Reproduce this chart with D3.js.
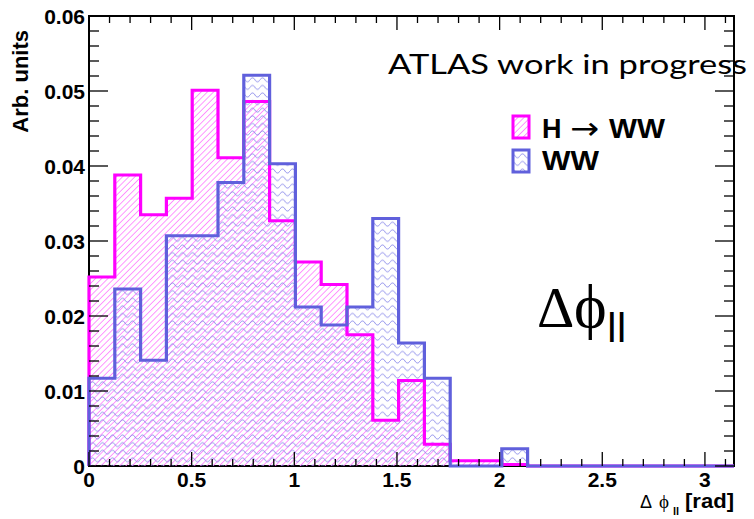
<!DOCTYPE html>
<html>
<head>
<meta charset="utf-8">
<script src="https://cdn.jsdelivr.net/npm/d3@7"></script>
<style>
  body { margin: 0; background: #fff; }
  svg { display: block; }
</style>
</head>
<body>
<div id="chart"></div>
<script>
// Data: 25 bins of delta phi_ll over [0, pi]
let nBins = 25;
let xMax = Math.PI;
let hwwValues = [0.0252, 0.0388, 0.0335, 0.0357, 0.0501, 0.0411, 0.0486, 0.0327, 0.0272, 0.0242,
                 0.0175, 0.0061, 0.0114, 0.0029, 0.0007, 0.0007, 0.0002, 0, 0, 0, 0, 0, 0, 0, 0];
let wwValues  = [0.0117, 0.0236, 0.0141, 0.0307, 0.0307, 0.0378, 0.0521, 0.0403, 0.0212, 0.0188,
                 0.0212, 0.0330, 0.0164, 0.0117, 0, 0, 0.0023, 0, 0, 0, 0, 0, 0, 0, 0];
let xTicks = [0, 0.5, 1, 1.5, 2, 2.5, 3];
let yTicks = [0, 0.01, 0.02, 0.03, 0.04, 0.05, 0.06];
let seriesNames = ["H \u2192 WW", "WW"];

let W = 754, H = 519;
let pLeft = 89, pRight = 734, pTop = 16, pBottom = 466;
let magenta = "#ff00ff", blue = "#6060dc";
let font = "'Liberation Sans', Arial, Helvetica, sans-serif";

let svg = d3.select("#chart").append("svg")
  .attr("width", W)
  .attr("height", H);

// Patterns
let defs = svg.append("defs");
defs.append("pattern")
  .attr("id", "hatch")
  .attr("patternUnits", "userSpaceOnUse")
  .attr("width", 4.4).attr("height", 10)
  .attr("patternTransform", "rotate(45)")
  .append("rect")
  .attr("x", 0).attr("y", 0)
  .attr("width", 0.8).attr("height", 10)
  .attr("fill", "#ff80ff");
defs.append("pattern")
  .attr("id", "waves")
  .attr("patternUnits", "userSpaceOnUse")
  .attr("width", 10).attr("height", 7.6)
  .append("path")
  .attr("d", "M0,3.8 C1.5,1.2 3.5,1.2 5,3.8 C6.5,6.4 8.5,6.4 10,3.8")
  .attr("fill", "none")
  .attr("stroke", "#8080e8")
  .attr("stroke-width", 0.9);

let x = d3.scaleLinear().domain([0, xMax]).range([pLeft, pRight]);
let y = d3.scaleLinear().domain([0, 0.06]).range([pBottom, pTop]);
let edges = d3.range(nBins + 1).map(i => i * xMax / nBins);

// step outline points
let stepPoints = function (vals) {
  let pts = [[x(edges[0]), y(0)]];
  vals.forEach(function (v, i) {
    pts.push([x(edges[i]), y(v)]);
    pts.push([x(edges[i + 1]), y(v)]);
  });
  pts.push([x(edges[nBins]), y(0)]);
  return pts;
};
let line = d3.line();

// Frame
svg.append("rect")
  .attr("x", pLeft).attr("y", pTop)
  .attr("width", pRight - pLeft).attr("height", pBottom - pTop)
  .attr("fill", "none")
  .attr("stroke", "#000")
  .attr("stroke-width", 2);

// Fills
svg.append("path").attr("d", line(stepPoints(hwwValues)) + "Z").attr("fill", "url(#hatch)");
svg.append("path").attr("d", line(stepPoints(wwValues)) + "Z").attr("fill", "url(#waves)");

// Outlines
svg.append("path").attr("d", line(stepPoints(hwwValues)))
  .attr("fill", "none").attr("stroke", magenta).attr("stroke-width", 3.2);
svg.append("path").attr("d", line(stepPoints(wwValues)))
  .attr("fill", "none").attr("stroke", blue).attr("stroke-width", 3.2);

// Ticks
let ticks = svg.append("g").attr("stroke", "#000").attr("stroke-width", 1.3);
let xMinor = d3.range(0, 32).map(i => i / 10);
xMinor.forEach(function (t) {
  let major = Math.abs(t * 2 - Math.round(t * 2)) < 1e-6;
  let len = major ? 14 : 7;
  ticks.append("line").attr("x1", x(t)).attr("x2", x(t)).attr("y1", pBottom).attr("y2", pBottom - len);
  ticks.append("line").attr("x1", x(t)).attr("x2", x(t)).attr("y1", pTop).attr("y2", pTop + len);
});
let yMinor = d3.range(0, 31).map(i => i * 0.002);
yMinor.forEach(function (t, i) {
  let len = (i % 5 === 0) ? 19 : 10;
  ticks.append("line").attr("x1", pLeft).attr("x2", pLeft + len).attr("y1", y(t)).attr("y2", y(t));
  ticks.append("line").attr("x1", pRight).attr("x2", pRight - len).attr("y1", y(t)).attr("y2", y(t));
});

// Tick labels
svg.append("g").selectAll("text")
  .data(xTicks)
  .enter()
  .append("text")
  .attr("x", d => x(d))
  .attr("y", 487)
  .attr("text-anchor", "middle")
  .attr("font-family", font)
  .attr("font-weight", "bold")
  .attr("font-size", 21)
  .text(d => String(d));
svg.append("g").selectAll("text")
  .data(yTicks)
  .enter()
  .append("text")
  .attr("x", 85)
  .attr("y", d => y(d) + 7.5)
  .attr("text-anchor", "end")
  .attr("font-family", font)
  .attr("font-weight", "bold")
  .attr("font-size", 21)
  .text(d => d === 0 ? "0" : d.toFixed(2));

// Axis titles
svg.append("text")
  .attr("transform", "translate(28,30) rotate(-90)")
  .attr("text-anchor", "end")
  .attr("font-family", font)
  .attr("font-weight", "bold")
  .attr("font-size", 22)
  .text("Arb. units");

svg.append("text").attr("x", 640).attr("y", 508)
  .attr("font-family", font).attr("font-size", 18).text("\u0394");
svg.append("text").attr("x", 659).attr("y", 508)
  .attr("font-family", "'Liberation Serif', 'DejaVu Serif', serif").attr("font-size", 19).text("\u03D5");
svg.append("text").attr("x", 673).attr("y", 515)
  .attr("font-family", font).attr("font-weight", "bold").attr("font-size", 11).text("ll");
svg.append("text").attr("x", 685).attr("y", 508)
  .attr("font-family", font).attr("font-weight", "bold").attr("font-size", 20)
  .attr("textLength", 49).attr("lengthAdjust", "spacingAndGlyphs").text("[rad]");

// ATLAS label
svg.append("text")
  .attr("x", 388).attr("y", 74)
  .attr("font-family", "Lato, 'Open Sans', sans-serif")
  .attr("font-size", 27)
  .attr("textLength", 359).attr("lengthAdjust", "spacingAndGlyphs")
  .attr("fill", "#000")
  .text("ATLAS work in progress");

// Big delta phi_ll label
svg.append("text").attr("x", 537).attr("y", 327)
  .attr("font-family", "'Liberation Serif', 'DejaVu Serif', serif").attr("font-size", 58).text("\u0394");
svg.append("text").attr("x", 574).attr("y", 327)
  .attr("font-family", "'Liberation Serif', 'DejaVu Serif', serif").attr("font-size", 62).text("\u03D5");
svg.append("text").attr("x", 607).attr("y", 342)
  .attr("font-family", "Lato, 'Open Sans', sans-serif").attr("font-size", 41).text("ll");

// Legend
let legend = svg.append("g");
let legY = [115, 149];
let fills = ["url(#hatch)", "url(#waves)"];
let strokes = [magenta, blue];
legend.selectAll("rect")
  .data(seriesNames)
  .enter()
  .append("rect")
  .attr("x", 513).attr("y", (d, i) => legY[i] + 1)
  .attr("width", 16).attr("height", 22)
  .attr("fill", (d, i) => fills[i])
  .attr("stroke", (d, i) => strokes[i])
  .attr("stroke-width", 3);

let t1 = legend.append("text").attr("y", 138)
  .attr("font-family", font).attr("font-weight", "bold").attr("font-size", 27);
t1.append("tspan").attr("x", 542).text("H");
t1.append("tspan").attr("x", 570).attr("y", 139).attr("font-weight", "normal")
  .attr("font-family", "'DejaVu Sans', sans-serif").attr("font-size", 31)
  .attr("textLength", 29).attr("lengthAdjust", "spacingAndGlyphs").text("\u2192");
t1.append("tspan").attr("x", 609).attr("y", 138).attr("textLength", 56).attr("lengthAdjust", "spacingAndGlyphs").text("WW");
legend.append("text").attr("x", 542).attr("y", 170)
  .attr("font-family", font).attr("font-weight", "bold").attr("font-size", 27)
  .attr("textLength", 57).attr("lengthAdjust", "spacingAndGlyphs")
  .text(seriesNames[1]);
</script>
</body>
</html>
